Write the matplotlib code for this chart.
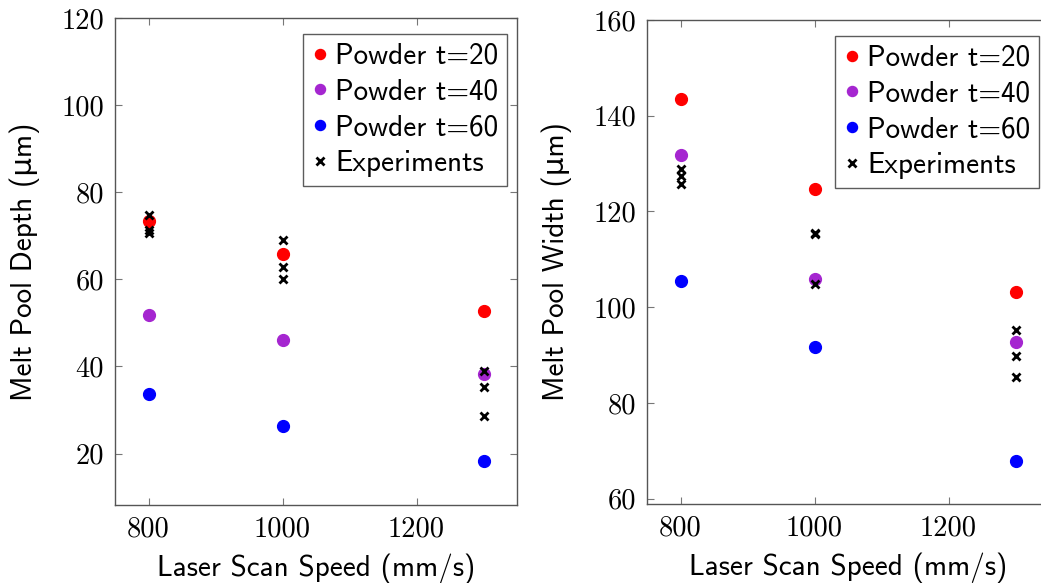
import numpy as np
import matplotlib.pyplot as plt
from matplotlib.ticker import FixedLocator

# scan speeds (mm/s)
speed = [800, 1000, 1300]

# melt pool depth (um), model
depth_t20 = [73.5, 65.9, 52.7]
depth_t40 = [51.9, 46.0, 38.2]
depth_t60 = [33.7, 26.3, 18.4]
# experiments, depth
exp_depth_x = [800, 800, 800, 1000, 1000, 1000, 1300, 1300, 1300]
exp_depth_y = [74.8, 71.3, 70.6, 69.1, 62.8, 60.0, 38.9, 35.4, 28.7]

# melt pool width (um), model
width_t20 = [143.6, 124.8, 103.2]
width_t40 = [131.8, 106.0, 92.7]
width_t60 = [105.4, 91.6, 67.9]
# experiments, width
exp_width_x = [800, 800, 800, 1000, 1000, 1000, 1300, 1300, 1300]
exp_width_y = [128.9, 127.4, 125.8, 115.6, 115.3, 104.8, 95.3, 89.9, 85.5]

labels = ['Powder t=20', 'Powder t=40', 'Powder t=60', 'Experiments']
colors = ['#ff0000', '#a526d0', '#0000ff']

sans = ['cmss10', 'DejaVu Sans']
fs = 21

W, H = 1041, 583
fig = plt.figure(figsize=(W / 100, H / 100), dpi=100)

def px_axes(x0, y0, x1, y1):
    return fig.add_axes([x0 / W, 1 - y1 / H, (x1 - x0) / W, (y1 - y0) / H])

ax1 = px_axes(115, 18, 517, 505)
ax2 = px_axes(647, 20, 1049, 504)

def draw(ax, ys, ex, ey, ylim, yticks, ylabel):
    for y, c, lab in zip(ys, colors, labels[:3]):
        ax.plot(speed, y, 'o', color=c, ms=8.5, ls='none', label=lab)
    ax.plot(ex, ey, 'x', color='black', ms=6, mew=2, ls='none', label=labels[3])
    ax.set_xlim(750, 1350)
    ax.set_ylim(*ylim)
    ax.xaxis.set_major_locator(FixedLocator([800, 1000, 1200]))
    ax.yaxis.set_major_locator(FixedLocator(yticks))
    ax.tick_params(direction='in', top=True, right=True, length=5, width=0.8,
                   color='#777777', labelsize=20.5, pad=8)
    for lab in ax.get_xticklabels() + ax.get_yticklabels():
        lab.set_family('cmr10')
    for s in ax.spines.values():
        s.set_color('#555555')
        s.set_linewidth(1.0)
    ax.set_xlabel('Laser Scan Speed (mm/s)', family=sans, fontsize=fs, labelpad=8)
    ax.set_ylabel(ylabel, family=sans, fontsize=fs, labelpad=15)
    leg = ax.legend(loc='upper right', bbox_to_anchor=(0.975, 0.967),
                    prop={'family': sans, 'size': fs}, frameon=True, fancybox=False,
                    handlelength=0.6, handletextpad=0.2, labelspacing=0.3,
                    borderpad=0.3, borderaxespad=0.0, markerscale=0.85)
    leg.get_frame().set_edgecolor('#333333')
    leg.get_frame().set_linewidth(1.0)

draw(ax1, [depth_t20, depth_t40, depth_t60], exp_depth_x, exp_depth_y,
     (8.2, 120), [20, 40, 60, 80, 100, 120], 'Melt Pool Depth (\u03bcm)')
draw(ax2, [width_t20, width_t40, width_t60], exp_width_x, exp_width_y,
     (58.9, 160), [60, 80, 100, 120, 140, 160], 'Melt Pool Width (\u03bcm)')

fig.savefig('out.png', dpi=100)
